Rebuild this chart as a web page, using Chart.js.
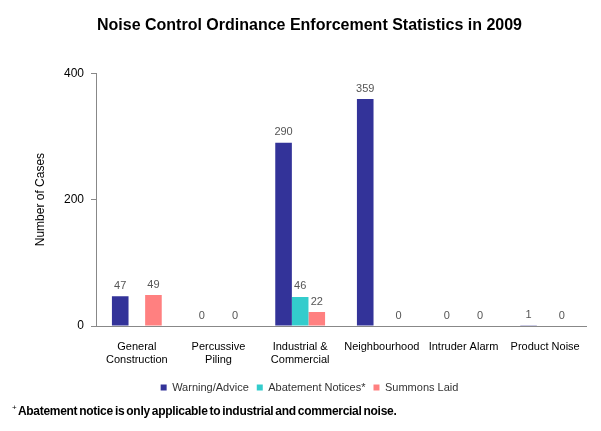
<!DOCTYPE html>
<html>
<head>
<meta charset="utf-8">
<script src="https://cdn.jsdelivr.net/npm/chart.js@4"></script>
<style>
  body { margin: 0; background: #fff; }
  #wrap { position: relative; width: 601px; height: 431px; }
  #note { position: absolute; left: 12px; top: 403px; font: bold 12px "Liberation Sans", Arial, sans-serif; letter-spacing: -0.3px; word-spacing: -1px; color: #000; }
  #note sup { font-size: 8px; font-weight: normal; }
</style>
</head>
<body>
<div id="wrap">
  <canvas id="chart" width="601" height="431"></canvas>
  <div id="note"><sup>+</sup> Abatement notice is only applicable to industrial and commercial noise.</div>
</div>
<script>
const categories = [
    ['General', 'Construction'],
    ['Percussive', 'Piling'],
    ['Industrial &', 'Commercial'],
    'Neighbourhood',
    'Intruder Alarm',
    'Product Noise'
];
const warningAdvice = [47, 0, 290, 359, 0, 1];
const abatementNotices = [null, null, 46, null, null, null];
const summonsLaid = [49, 0, 22, 0, 0, 0];
const yTicks = [0, 200, 400];

const FONT = '"Liberation Sans", Arial, sans-serif';

// etiquetas de valor encima de cada barra
const valueLabels = {
    id: 'valueLabels',
    afterDatasetsDraw(chart) {
        const ctx = chart.ctx;
        ctx.save();
        ctx.font = '11px ' + FONT;
        ctx.fillStyle = '#555';
        ctx.textAlign = 'center';
        ctx.textBaseline = 'bottom';
        chart.data.datasets.forEach((ds, i) => {
            const meta = chart.getDatasetMeta(i);
            meta.data.forEach((bar, j) => {
                const v = ds.data[j];
                if (v === null || v === undefined) return;
                ctx.fillText(String(v), bar.x, bar.y - 5);
            });
        });
        ctx.restore();
    }
};

new Chart(document.getElementById('chart').getContext('2d'), {
    type: 'bar',
    data: {
        labels: categories,
        datasets: [
            { label: 'Warning/Advice', data: warningAdvice, backgroundColor: '#333399' },
            { label: 'Abatement Notices*', data: abatementNotices, backgroundColor: '#33CCCC' },
            { label: 'Summons Laid', data: summonsLaid, backgroundColor: '#FF8080' }
        ]
    },
    options: {
        responsive: false,
        animation: false,
        layout: { padding: { left: 18, right: 0, top: 0, bottom: 28 } },
        datasets: { bar: { barPercentage: 1, categoryPercentage: 0.61 } },
        plugins: {
            title: {
                display: true,
                text: 'Noise Control Ordinance Enforcement Statistics in 2009',
                color: '#000',
                font: { family: FONT, size: 16, weight: 'bold' },
                padding: { top: 16, bottom: 38 }
            },
            legend: {
                position: 'bottom',
                labels: {
                    color: '#333',
                    font: { family: FONT, size: 11 },
                    boxWidth: 6,
                    boxHeight: 6,
                    padding: 8
                }
            },
            tooltip: { enabled: false }
        },
        scales: {
            x: {
                grid: { display: false },
                border: { color: '#888', dash: [2, 1] },
                ticks: {
                    color: '#000',
                    maxRotation: 0,
                    autoSkip: false,
                    font: { family: FONT, size: 11 },
                    padding: 6
                },
                afterFit(scale) { scale.height = 48; }
            },
            y: {
                min: 0,
                max: 400,
                afterBuildTicks(scale) { scale.ticks = yTicks.map(v => ({ value: v })); },
                grid: { drawOnChartArea: false, tickLength: 5, color: '#888' },
                border: { color: '#888' },
                ticks: {
                    color: '#000',
                    font: { family: FONT, size: 12 },
                    padding: 7
                },
                title: {
                    display: true,
                    text: 'Number of Cases',
                    color: '#000',
                    font: { family: FONT, size: 12 },
                    padding: { top: 15, bottom: 0 }
                },
                afterFit(scale) { scale.width = 78; }
            },
            // eje vacío a la derecha, solo reserva margen
            pad: {
                type: 'linear',
                position: 'right',
                grid: { display: false },
                border: { display: false },
                ticks: { display: false },
                afterFit(scale) { scale.width = 15; }
            }
        }
    },
    plugins: [valueLabels]
});
</script>
</body>
</html>
